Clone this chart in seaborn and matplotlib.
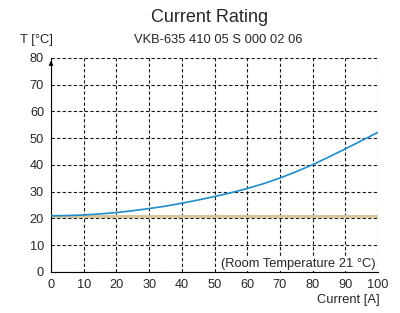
import numpy as np
import pandas as pd
import matplotlib
matplotlib.use("Agg")
import matplotlib.pyplot as plt
import seaborn as sns

# Data
current = [0, 5, 10, 15, 20, 25, 30, 35, 40, 45, 50, 55, 60, 65, 70, 75, 80, 85, 90, 95, 100]
temperature = [21.0, 21.1, 21.3, 21.7, 22.2, 22.9, 23.7, 24.6, 25.7, 26.9, 28.2, 29.6, 31.2,
               33.0, 35.1, 37.5, 40.1, 43.0, 46.0, 49.1, 52.2]
room_temp = 21
x_ticks = list(range(0, 101, 10))
y_ticks = list(range(0, 81, 10))

sns.set_style("white")
plt.rcParams['font.family'] = ['Liberation Sans', 'DejaVu Sans']

df = pd.DataFrame({"Current": current, "T": temperature})

fig = plt.figure(figsize=(4, 3.13), dpi=100)
ax = fig.add_axes([0.1275, 0.131, 0.8175, 0.684])

ax.axhline(room_temp, color="#d6c69c", lw=2.2, zorder=2)
sns.lineplot(data=df, x="Current", y="T", ax=ax, color="#1f8ccc", lw=1.2, zorder=3)

ax.set_xlim(0, 100)
ax.set_ylim(0, 80)
ax.set_xticks(x_ticks)
ax.set_yticks(y_ticks)
ax.grid(True, color="black", ls=(0, (3, 2)), lw=0.8, alpha=0.9)
for s in ["top", "right"]:
    ax.spines[s].set_visible(False)
for s in ["left", "bottom"]:
    ax.spines[s].set_color("black")
    ax.spines[s].set_linewidth(0.8)
ax.tick_params(axis="both", length=3, width=0.8, labelsize=9.2, color="black", pad=2, direction="out")
ax.set_xlabel("")
ax.set_ylabel("")

ax.annotate("", xy=(0, 1.0), xycoords="axes fraction", xytext=(0, 0.96),
            arrowprops=dict(arrowstyle="-|>", color="black", lw=0.8, mutation_scale=6))

ax.text(99.3, 3, "(Room Temperature 21 °C)", ha="right", va="center", fontsize=9.3,
        bbox=dict(facecolor="white", edgecolor="none", pad=0.5), zorder=4)

fig.text(0.525, 0.945, "Current Rating", ha="center", va="center", fontsize=13)
fig.text(0.545, 0.873, "VKB-635 410 05 S 000 02 06", ha="center", va="center", fontsize=9.3)
fig.text(0.05, 0.873, "T [°C]", ha="left", va="center", fontsize=9.3)
fig.text(0.95, 0.04, "Current [A]", ha="right", va="center", fontsize=9.3)

fig.savefig("out.png", dpi=100)
